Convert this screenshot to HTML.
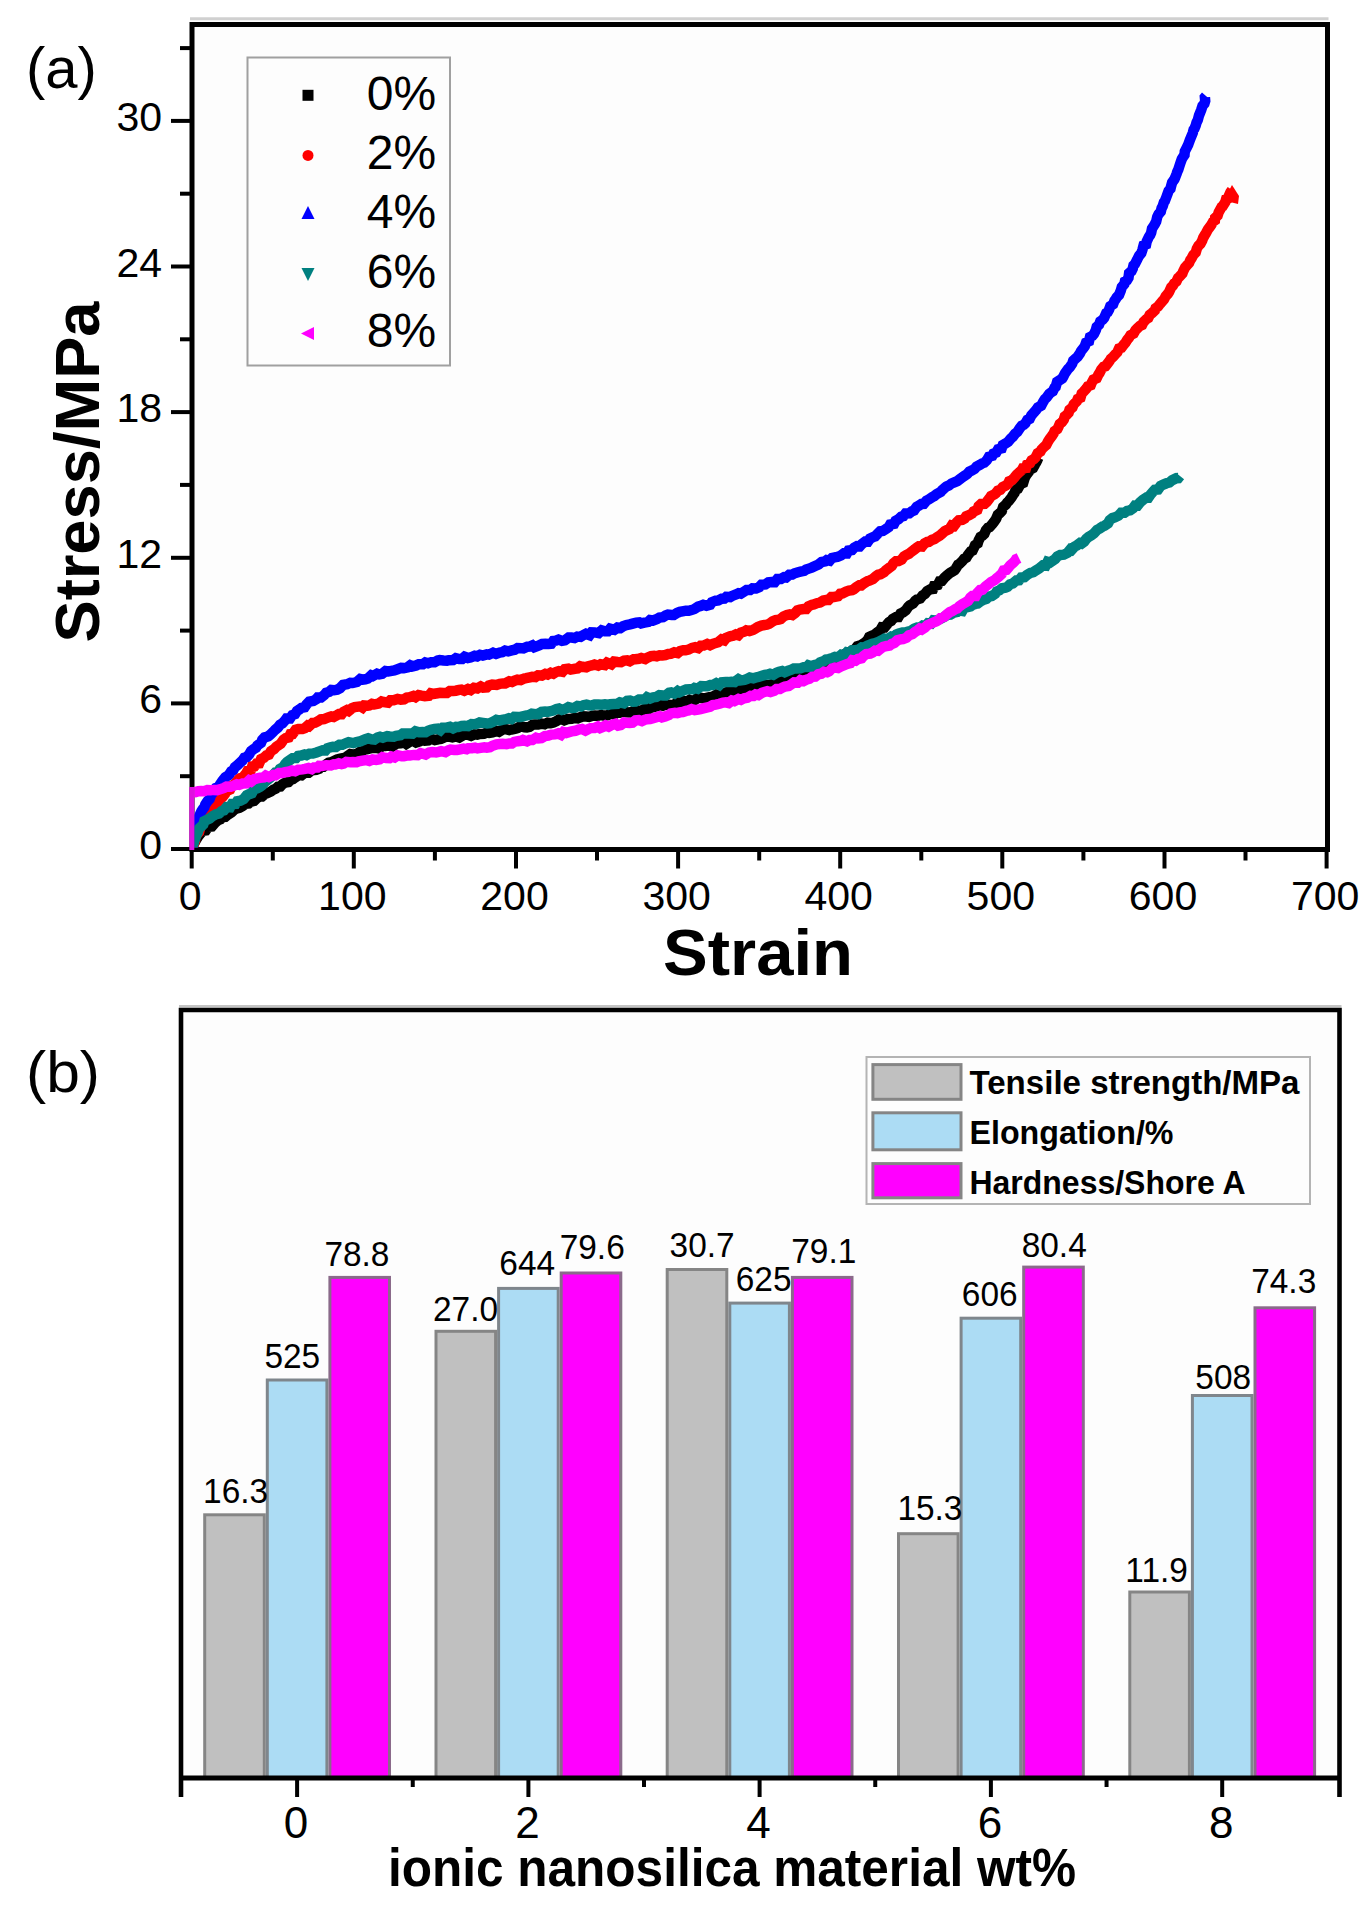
<!DOCTYPE html>
<html><head><meta charset="utf-8"><style>
html,body{margin:0;padding:0;background:#fff;width:1370px;height:1907px;overflow:hidden}
svg{display:block}
text{font-family:"Liberation Sans", sans-serif;fill:#000}
.th{stroke:#fff;stroke-width:0.7px}
</style></head><body>
<svg width="1370" height="1907" viewBox="0 0 1370 1907">
<rect x="192" y="24.5" width="1135.5" height="825.0" fill="#fdfdfd" stroke="#000" stroke-width="5"/>
<line x1="190" y1="18.8" x2="1328.5" y2="18.8" stroke="#d0d0d0" stroke-width="3"/>
<line x1="171" y1="849.0" x2="192" y2="849.0" stroke="#000" stroke-width="4"/>
<line x1="180" y1="776.2" x2="192" y2="776.2" stroke="#000" stroke-width="4"/>
<line x1="171" y1="703.4" x2="192" y2="703.4" stroke="#000" stroke-width="4"/>
<line x1="180" y1="630.6" x2="192" y2="630.6" stroke="#000" stroke-width="4"/>
<line x1="171" y1="557.8" x2="192" y2="557.8" stroke="#000" stroke-width="4"/>
<line x1="180" y1="484.9" x2="192" y2="484.9" stroke="#000" stroke-width="4"/>
<line x1="171" y1="412.1" x2="192" y2="412.1" stroke="#000" stroke-width="4"/>
<line x1="180" y1="339.3" x2="192" y2="339.3" stroke="#000" stroke-width="4"/>
<line x1="171" y1="266.5" x2="192" y2="266.5" stroke="#000" stroke-width="4"/>
<line x1="180" y1="193.7" x2="192" y2="193.7" stroke="#000" stroke-width="4"/>
<line x1="171" y1="120.9" x2="192" y2="120.9" stroke="#000" stroke-width="4"/>
<line x1="180" y1="48.1" x2="192" y2="48.1" stroke="#000" stroke-width="4"/>
<line x1="191.7" y1="849.5" x2="191.7" y2="868.5" stroke="#000" stroke-width="4"/>
<line x1="272.8" y1="849.5" x2="272.8" y2="860.5" stroke="#000" stroke-width="4"/>
<line x1="353.8" y1="849.5" x2="353.8" y2="868.5" stroke="#000" stroke-width="4"/>
<line x1="434.9" y1="849.5" x2="434.9" y2="860.5" stroke="#000" stroke-width="4"/>
<line x1="516.0" y1="849.5" x2="516.0" y2="868.5" stroke="#000" stroke-width="4"/>
<line x1="597.0" y1="849.5" x2="597.0" y2="860.5" stroke="#000" stroke-width="4"/>
<line x1="678.1" y1="849.5" x2="678.1" y2="868.5" stroke="#000" stroke-width="4"/>
<line x1="759.2" y1="849.5" x2="759.2" y2="860.5" stroke="#000" stroke-width="4"/>
<line x1="840.2" y1="849.5" x2="840.2" y2="868.5" stroke="#000" stroke-width="4"/>
<line x1="921.3" y1="849.5" x2="921.3" y2="860.5" stroke="#000" stroke-width="4"/>
<line x1="1002.3" y1="849.5" x2="1002.3" y2="868.5" stroke="#000" stroke-width="4"/>
<line x1="1083.4" y1="849.5" x2="1083.4" y2="860.5" stroke="#000" stroke-width="4"/>
<line x1="1164.5" y1="849.5" x2="1164.5" y2="868.5" stroke="#000" stroke-width="4"/>
<line x1="1245.5" y1="849.5" x2="1245.5" y2="860.5" stroke="#000" stroke-width="4"/>
<line x1="1326.6" y1="849.5" x2="1326.6" y2="868.5" stroke="#000" stroke-width="4"/>
<text x="162" y="859.0" text-anchor="end" font-size="41">0</text>
<text x="162" y="713.4" text-anchor="end" font-size="41">6</text>
<text x="162" y="567.8" text-anchor="end" font-size="41">12</text>
<text x="162" y="422.1" text-anchor="end" font-size="41">18</text>
<text x="162" y="276.5" text-anchor="end" font-size="41">24</text>
<text x="162" y="130.9" text-anchor="end" font-size="41">30</text>
<text x="190.2" y="910" text-anchor="middle" font-size="41">0</text>
<text x="352.3" y="910" text-anchor="middle" font-size="41">100</text>
<text x="514.5" y="910" text-anchor="middle" font-size="41">200</text>
<text x="676.6" y="910" text-anchor="middle" font-size="41">300</text>
<text x="838.7" y="910" text-anchor="middle" font-size="41">400</text>
<text x="1000.8" y="910" text-anchor="middle" font-size="41">500</text>
<text x="1163.0" y="910" text-anchor="middle" font-size="41">600</text>
<text x="1325.1" y="910" text-anchor="middle" font-size="41">700</text>
<text x="758" y="975" text-anchor="middle" font-size="65" font-weight="bold" textLength="190" lengthAdjust="spacingAndGlyphs">Strain</text>
<text transform="translate(99,472) rotate(-90)" text-anchor="middle" font-size="63.5" font-weight="bold" textLength="341" lengthAdjust="spacingAndGlyphs">Stress/MPa</text>
<text x="26" y="88" font-size="58">(a)</text>
<clipPath id="pa"><rect x="194.2" y="26.5" width="1131" height="821"/></clipPath><g clip-path="url(#pa)">
<path d="M192.0,849.0 L192.8,845.8 L194.7,842.3 L196.5,839.2 L198.4,836.0 L200.4,833.7 L202.8,830.8 L205.8,830.4 L208.2,826.8 L211.9,826.4 L215.1,822.8 L218.1,820.3 L220.5,819.2 L222.2,817.0 L225.3,816.8 L228.1,814.5 L231.6,812.2 L234.2,809.9 L236.1,808.7 L239.3,807.8 L242.2,806.2 L245.4,803.9 L248.6,803.5 L250.5,801.8 L254.0,800.9 L256.9,798.1 L260.0,796.3 L262.1,796.4 L264.6,794.2 L267.2,793.2 L270.9,791.5 L273.5,789.6 L276.0,788.6 L277.9,786.8 L280.4,786.5 L282.4,784.3 L285.4,782.5 L288.5,782.1 L291.2,779.3 L293.1,779.0 L295.4,777.3 L298.6,775.1 L301.5,775.4 L304.9,772.7 L308.7,772.8 L311.8,770.4 L316.1,769.9 L319.0,768.8 L320.7,766.7 L323.5,766.7 L327.0,763.8 L328.6,762.8 L331.5,762.2 L334.9,760.4 L336.9,759.6 L340.5,758.7 L344.4,757.8 L346.8,756.5 L350.3,754.0 L353.8,754.7 L357.1,753.7 L359.8,751.8 L362.0,751.6 L364.7,749.6 L367.6,749.2 L370.6,748.3 L373.0,747.9 L376.1,747.8 L378.9,748.4 L382.7,746.1 L385.2,746.1 L388.4,745.0 L392.2,746.5 L394.7,744.8 L397.2,743.4 L400.7,743.3 L404.4,742.5 L406.3,743.9 L410.1,741.5 L413.1,740.8 L416.1,742.6 L419.5,741.5 L421.7,740.2 L424.7,740.8 L428.3,740.4 L431.0,738.6 L434.8,740.1 L437.9,739.3 L440.9,738.8 L443.1,737.9 L446.3,736.4 L448.9,736.7 L452.3,737.3 L456.3,736.4 L459.3,737.4 L462.4,735.6 L464.4,734.9 L467.4,734.5 L471.1,735.8 L474.4,734.4 L477.2,734.7 L479.5,734.0 L483.8,733.8 L486.7,732.6 L489.1,732.9 L492.5,732.4 L496.6,731.0 L499.0,731.8 L502.7,729.5 L505.0,728.9 L509.3,730.0 L511.3,729.5 L515.6,728.6 L517.8,727.9 L520.5,726.1 L524.6,727.2 L526.9,727.4 L529.6,726.8 L532.8,724.7 L534.6,724.5 L538.2,724.6 L541.6,723.6 L544.6,724.2 L547.8,722.6 L551.0,723.1 L553.5,722.6 L556.4,721.2 L559.2,719.4 L561.9,719.3 L564.2,720.3 L567.6,719.0 L571.7,718.7 L574.7,718.0 L577.7,718.3 L579.8,717.4 L582.8,716.4 L586.4,716.6 L589.0,716.9 L592.5,715.8 L595.2,715.6 L598.1,715.7 L601.2,715.0 L604.4,715.6 L607.9,715.1 L611.4,713.3 L614.1,714.6 L617.7,712.3 L619.9,712.6 L623.0,711.7 L626.1,712.3 L630.3,712.4 L632.5,711.5 L636.2,709.7 L639.4,711.2 L641.4,710.7 L644.6,709.0 L648.4,709.4 L650.2,707.9 L653.6,707.1 L656.1,706.5 L659.9,705.2 L662.6,705.7 L664.8,704.8 L668.6,704.7 L670.8,705.2 L674.8,704.6 L676.7,702.4 L679.6,703.0 L682.9,700.9 L686.0,702.1 L689.5,700.0 L691.5,701.0 L695.2,699.9 L697.6,697.7 L701.5,698.0 L703.6,698.6 L707.5,697.7 L709.8,697.2 L712.8,696.6 L716.4,694.7 L719.6,695.5 L722.2,693.0 L725.6,692.6 L728.0,691.8 L731.0,691.3 L734.4,690.9 L738.1,690.2 L740.8,689.2 L743.6,688.2 L746.6,687.5 L750.3,688.1 L752.5,687.3 L756.6,685.8 L759.4,685.9 L762.0,686.3 L764.9,684.9 L768.4,685.4 L771.0,684.4 L774.6,683.4 L777.2,682.0 L779.8,680.9 L782.9,681.7 L786.2,679.6 L788.9,680.5 L793.0,679.4 L795.0,677.6 L797.9,677.4 L800.5,676.5 L803.4,676.9 L807.1,675.0 L808.6,675.1 L811.9,672.4 L814.5,671.2 L818.2,670.1 L820.8,668.6 L823.4,666.5 L826.4,665.3 L829.1,662.8 L832.2,661.7 L835.2,660.8 L838.0,659.5 L840.5,658.5 L842.5,655.5 L845.8,653.6 L847.8,653.2 L849.1,652.2 L852.6,650.3 L855.4,648.8 L857.3,646.3 L860.4,645.4 L863.2,643.7 L865.2,642.3 L867.6,640.1 L869.2,636.9 L871.4,635.9 L873.8,635.1 L877.1,632.6 L880.2,630.4 L882.0,627.2 L884.6,627.4 L886.3,625.2 L888.8,622.3 L891.2,620.9 L892.6,619.1 L895.9,617.1 L898.4,617.0 L900.5,613.6 L902.9,612.4 L905.8,610.2 L908.1,606.9 L909.8,605.3 L913.1,603.5 L915.3,600.8 L917.0,599.4 L920.2,598.5 L922.6,595.5 L924.8,594.0 L927.2,591.1 L930.3,589.3 L933.0,589.0 L934.1,585.8 L937.8,585.0 L939.7,581.3 L941.9,580.9 L944.3,577.9 L946.6,575.8 L950.1,572.8 L952.2,571.7 L954.5,570.2 L955.7,568.7 L958.1,564.7 L959.3,564.0 L962.4,561.0 L964.2,558.7 L966.4,557.6 L967.8,555.1 L970.8,551.4 L972.6,550.6 L974.1,547.4 L975.0,545.3 L977.7,543.4 L978.6,540.5 L980.5,536.8 L982.4,535.8 L984.3,534.0 L985.9,530.2 L988.0,527.7 L989.7,527.1 L992.2,524.3 L993.8,522.1 L996.2,518.6 L997.8,514.8 L999.8,513.2 L1001.8,511.0 L1003.1,507.0 L1005.9,504.6 L1007.2,502.5 L1008.8,501.0 L1011.6,497.4 L1012.9,495.1 L1014.5,493.0 L1015.5,490.2 L1017.8,488.9 L1020.4,484.2 L1023.2,483.0 L1024.8,477.8 L1026.5,474.7 L1028.8,471.7 L1030.7,469.3 L1033.0,468.1 L1035.0,464.4 L1036.2,462.4 L1037.5,459.9 L1038.3,457.9 L1040.0,457.0" fill="none" stroke="#000000" stroke-width="10.5" stroke-linejoin="miter" stroke-miterlimit="2" stroke-linecap="butt"/>
<path d="M192.0,849.0 L193.3,846.2 L193.5,844.9 L195.0,840.9 L195.3,837.6 L196.8,834.6 L199.1,832.1 L200.5,826.9 L200.6,826.1 L203.2,823.1 L204.1,819.5 L205.3,819.3 L207.5,816.6 L209.5,812.6 L210.1,809.7 L212.8,808.3 L215.6,805.5 L217.0,803.6 L218.6,800.9 L220.1,799.2 L222.5,797.2 L225.4,793.3 L226.9,790.8 L230.0,789.5 L231.6,785.6 L234.5,784.5 L236.6,781.4 L239.1,778.7 L240.8,777.8 L243.7,776.3 L246.1,773.5 L247.6,770.8 L250.9,769.9 L252.1,766.5 L254.5,766.3 L256.6,763.5 L259.2,763.3 L261.0,759.1 L263.8,757.8 L266.4,755.4 L268.9,754.6 L270.9,751.2 L274.0,749.2 L276.3,746.7 L278.0,745.6 L280.7,743.8 L283.5,739.7 L285.7,738.2 L288.7,737.5 L290.3,734.3 L292.6,734.1 L295.6,729.9 L298.4,729.1 L302.3,729.0 L304.8,728.1 L307.7,725.5 L309.2,726.1 L312.7,722.9 L315.2,722.7 L318.0,721.3 L320.8,719.4 L324.1,719.1 L328.2,717.4 L331.3,716.5 L333.6,716.9 L337.5,714.8 L338.9,714.0 L341.7,714.1 L343.5,711.8 L346.8,710.1 L348.6,711.0 L352.1,708.1 L354.7,707.1 L360.6,706.4 L362.5,707.5 L364.2,705.5 L367.6,705.8 L369.2,705.5 L372.0,703.9 L374.4,704.4 L378.6,703.6 L381.7,701.5 L383.8,702.0 L388.0,702.6 L390.3,700.3 L393.6,700.3 L397.6,699.0 L400.7,699.7 L403.9,699.3 L406.8,697.6 L409.6,697.2 L413.4,696.0 L415.6,697.1 L418.6,695.0 L421.4,695.6 L424.9,696.2 L428.8,695.8 L430.9,693.2 L433.8,693.8 L437.7,693.2 L440.1,692.8 L443.7,693.0 L446.9,693.0 L449.8,690.9 L453.1,690.9 L455.8,690.7 L459.1,689.9 L461.4,689.6 L464.3,690.8 L468.0,689.0 L470.8,690.1 L474.0,687.8 L477.4,688.4 L480.8,686.5 L483.2,687.7 L486.8,687.4 L488.9,685.4 L492.2,684.5 L496.6,684.9 L499.8,683.8 L502.9,683.4 L505.2,683.5 L509.3,681.3 L512.0,681.9 L514.5,680.7 L517.5,679.7 L520.7,680.1 L524.2,678.5 L526.1,678.2 L529.9,677.3 L532.1,676.8 L535.4,677.1 L538.0,675.3 L541.8,675.6 L545.3,673.8 L547.6,674.5 L550.7,672.8 L553.4,673.7 L556.1,672.1 L558.9,671.1 L562.5,671.8 L564.7,669.2 L568.4,668.6 L570.7,669.6 L574.9,668.8 L577.5,668.5 L580.3,666.3 L582.4,666.8 L586.2,667.3 L588.4,666.2 L591.8,665.5 L594.5,664.6 L598.1,665.7 L600.7,664.3 L604.8,665.0 L607.1,662.6 L611.4,664.3 L614.0,661.6 L617.8,662.0 L621.0,662.2 L624.1,660.6 L627.2,660.3 L629.8,661.3 L633.5,659.2 L635.5,659.3 L638.9,658.8 L641.3,658.0 L645.1,659.1 L647.0,657.8 L651.0,656.1 L654.1,655.8 L656.7,656.3 L659.7,655.2 L662.4,655.4 L665.4,655.0 L668.3,654.0 L670.7,653.8 L674.3,652.3 L677.7,653.1 L680.2,651.0 L683.2,650.2 L685.6,650.3 L688.5,649.6 L692.0,647.9 L695.1,647.2 L698.2,648.1 L700.8,645.6 L703.7,645.5 L707.2,644.0 L710.0,645.2 L712.7,643.9 L714.8,643.3 L718.1,642.3 L721.6,639.4 L724.3,640.3 L726.2,637.9 L730.0,636.4 L733.1,635.7 L735.9,634.4 L738.4,635.2 L740.8,632.6 L744.2,631.7 L746.4,630.3 L749.5,631.0 L753.0,629.9 L755.1,628.7 L757.8,627.0 L761.4,625.6 L764.5,625.0 L766.9,624.7 L769.1,623.9 L772.6,621.4 L775.7,620.0 L778.8,619.6 L780.7,619.0 L783.6,616.4 L786.9,615.0 L789.8,614.4 L792.4,615.0 L795.1,613.1 L797.5,610.4 L799.9,609.6 L803.6,609.1 L806.2,609.1 L808.5,606.3 L812.0,604.7 L813.9,604.4 L816.9,603.2 L819.9,602.6 L823.3,600.6 L826.2,600.1 L828.4,600.0 L831.4,597.0 L834.1,597.0 L838.1,596.2 L840.2,593.8 L842.5,593.5 L846.1,591.6 L849.0,590.6 L852.1,590.1 L853.8,589.3 L856.2,587.2 L859.3,585.2 L861.4,585.3 L863.8,583.4 L867.6,581.1 L869.5,580.6 L872.9,579.0 L876.1,576.1 L878.1,574.7 L880.5,574.3 L884.2,572.1 L885.7,570.5 L889.3,567.8 L891.8,565.9 L893.5,563.2 L896.0,561.2 L898.6,561.1 L901.6,559.6 L904.0,556.4 L906.2,555.1 L909.0,553.7 L910.7,552.3 L914.4,549.6 L917.0,547.4 L918.7,546.3 L922.0,546.5 L924.5,543.5 L927.3,542.0 L928.9,541.9 L931.9,539.9 L934.5,539.1 L936.8,537.3 L939.7,535.7 L941.9,533.8 L944.7,531.1 L946.9,530.1 L949.4,529.0 L951.8,525.3 L954.1,525.8 L956.8,522.3 L958.8,520.3 L962.1,520.0 L964.6,518.5 L966.1,516.4 L969.0,515.2 L972.1,513.5 L973.5,511.6 L977.3,509.9 L978.6,506.2 L981.1,503.9 L984.6,503.8 L986.8,501.8 L989.3,498.6 L991.0,496.1 L994.4,494.3 L996.0,493.0 L997.8,490.7 L1000.4,489.8 L1002.8,486.9 L1005.9,485.4 L1008.1,483.7 L1009.2,481.2 L1012.1,480.0 L1014.2,477.8 L1016.8,474.5 L1019.5,472.1 L1021.7,470.2 L1022.8,468.2 L1026.1,467.9 L1027.1,464.6 L1030.0,463.2 L1031.6,460.4 L1033.9,459.1 L1035.7,457.2 L1037.7,453.3 L1040.4,451.6 L1041.5,449.5 L1043.5,447.4 L1046.3,444.9 L1048.1,441.4 L1049.6,439.0 L1052.1,435.7 L1053.8,433.0 L1054.6,431.1 L1057.3,429.1 L1058.2,427.5 L1059.7,424.0 L1061.8,422.3 L1063.8,419.6 L1064.8,416.4 L1066.2,415.3 L1068.6,412.8 L1069.5,409.9 L1072.5,407.4 L1073.7,404.4 L1076.8,401.3 L1077.8,398.9 L1080.5,397.7 L1081.7,393.5 L1083.8,391.5 L1086.2,388.7 L1087.8,386.4 L1090.7,385.3 L1091.4,383.4 L1093.4,379.6 L1096.7,378.2 L1098.3,374.8 L1099.5,373.0 L1101.2,369.6 L1103.5,366.9 L1105.5,366.3 L1107.8,363.3 L1109.6,360.9 L1110.8,358.9 L1113.1,356.8 L1115.8,353.8 L1117.3,352.2 L1119.0,348.6 L1121.4,347.8 L1123.4,345.1 L1125.5,342.7 L1127.2,339.9 L1128.8,338.0 L1130.5,335.2 L1133.6,333.6 L1135.5,330.2 L1137.4,328.3 L1139.9,325.9 L1142.1,324.9 L1143.6,321.9 L1146.6,319.0 L1148.2,318.1 L1149.7,314.9 L1151.9,313.2 L1154.9,310.4 L1155.6,308.3 L1158.1,306.5 L1160.2,303.7 L1162.7,300.8 L1164.1,299.3 L1165.7,296.2 L1167.8,293.9 L1169.1,292.0 L1171.2,287.4 L1172.8,285.8 L1174.2,283.4 L1176.4,281.5 L1178.1,278.0 L1179.6,276.6 L1182.4,273.5 L1183.1,271.5 L1185.1,267.4 L1186.4,266.0 L1189.1,263.0 L1190.3,260.1 L1191.6,258.3 L1193.4,254.9 L1195.7,252.6 L1196.8,248.7 L1198.5,245.7 L1200.5,243.7 L1202.2,240.6 L1203.2,237.8 L1204.9,234.8 L1205.9,233.3 L1208.0,229.3 L1209.6,227.2 L1211.3,224.9 L1213.1,221.6 L1214.9,220.4 L1215.1,218.0 L1217.6,215.7 L1218.7,212.2 L1221.6,206.9 L1222.6,206.3 L1225.3,202.0 L1226.1,199.3 L1227.6,198.7 L1230.5,192.1 L1232.0,190.0" fill="none" stroke="#ff0000" stroke-width="10.5" stroke-linejoin="miter" stroke-miterlimit="2" stroke-linecap="butt"/>
<polygon points="1226,196 1232,185 1239,196 1238,204 1230,202" fill="#ff0000"/>
<path d="M192.0,849.0 L193.0,847.8 L192.4,845.4 L193.6,842.1 L194.4,838.9 L195.2,835.3 L195.1,831.5 L196.3,828.4 L196.9,825.9 L198.1,820.8 L198.7,817.3 L200.1,814.2 L201.4,811.4 L203.0,809.0 L204.4,807.3 L205.3,804.5 L207.6,801.0 L209.7,798.8 L211.1,795.0 L213.8,791.5 L215.2,790.3 L216.2,787.7 L218.9,786.3 L220.1,784.3 L222.4,780.9 L225.4,777.2 L228.3,775.3 L229.4,774.2 L231.2,771.4 L233.4,770.1 L234.9,767.2 L237.4,765.3 L240.2,762.5 L242.5,760.4 L244.3,757.8 L246.7,757.1 L249.2,754.4 L251.1,751.0 L253.3,749.4 L256.0,747.7 L257.3,745.5 L261.0,742.8 L262.2,740.0 L264.6,737.4 L268.3,736.2 L270.4,734.5 L273.2,731.9 L275.1,729.8 L277.7,727.7 L280.0,724.7 L282.4,723.3 L285.0,720.5 L286.5,718.4 L290.0,718.4 L292.3,715.1 L295.0,714.2 L297.0,711.0 L299.1,709.6 L301.5,707.8 L304.6,707.2 L306.4,704.5 L309.2,701.7 L313.2,701.0 L316.6,698.9 L317.8,697.4 L321.1,697.4 L324.3,695.0 L326.1,692.8 L329.2,691.8 L331.3,690.0 L334.0,690.3 L337.1,689.7 L340.0,688.2 L343.1,684.9 L347.1,684.2 L350.3,682.8 L352.6,683.0 L356.9,682.0 L360.3,679.0 L362.8,679.6 L365.2,679.3 L367.7,678.5 L371.2,675.3 L373.0,676.0 L377.1,673.7 L379.3,674.4 L382.1,673.9 L385.6,671.1 L388.4,671.5 L391.6,670.9 L394.2,670.4 L397.6,669.2 L401.1,667.9 L403.8,668.1 L407.7,667.3 L410.2,665.4 L412.4,666.4 L416.3,665.4 L418.8,664.3 L422.8,664.2 L425.3,662.4 L428.1,663.2 L431.1,662.3 L434.5,662.3 L437.8,660.4 L439.7,660.0 L443.4,660.4 L447.0,660.7 L448.9,660.2 L453.1,660.0 L455.8,658.2 L459.2,659.1 L462.0,659.0 L464.6,656.7 L467.9,658.0 L470.5,657.5 L474.6,655.8 L477.2,656.4 L480.0,654.8 L482.8,655.6 L486.8,654.4 L488.9,654.7 L493.1,652.8 L496.0,653.9 L499.7,652.5 L502.3,652.1 L505.1,650.6 L508.2,651.3 L511.7,650.4 L514.8,649.7 L517.5,648.1 L521.7,648.3 L523.4,648.4 L527.3,646.7 L529.8,646.6 L532.4,645.4 L534.3,647.2 L539.1,645.3 L542.1,644.0 L545.5,643.7 L548.7,643.9 L551.3,643.7 L553.3,640.9 L555.9,640.6 L558.5,639.6 L562.0,640.9 L564.8,640.4 L568.6,637.5 L571.5,637.6 L574.5,638.1 L577.3,636.6 L580.5,636.9 L583.4,635.0 L585.9,633.8 L589.6,635.2 L591.6,632.3 L594.7,632.4 L598.7,633.1 L601.7,630.4 L604.8,631.3 L607.8,631.3 L610.1,628.6 L614.4,629.8 L617.5,627.6 L620.5,628.0 L623.0,626.3 L626.4,625.1 L629.9,624.4 L632.6,623.6 L636.2,622.6 L639.2,622.4 L641.1,623.4 L644.3,622.7 L648.2,621.9 L650.1,620.1 L653.0,620.5 L657.1,619.0 L659.5,617.5 L663.0,617.1 L665.6,615.5 L668.0,614.5 L671.7,614.9 L673.8,614.9 L677.0,613.0 L679.8,611.8 L683.7,611.1 L685.7,610.7 L688.8,610.8 L691.4,610.1 L694.3,609.1 L698.1,606.6 L700.7,605.9 L703.3,604.8 L706.4,605.7 L710.2,604.7 L711.8,602.2 L715.8,600.7 L718.4,600.4 L721.7,598.7 L724.3,598.6 L726.3,596.8 L730.1,597.1 L732.1,595.9 L736.0,594.4 L738.5,593.2 L740.8,593.7 L744.5,591.3 L746.5,590.0 L750.2,590.0 L752.6,588.3 L756.1,588.4 L759.4,587.0 L761.6,584.7 L765.4,584.4 L768.4,582.4 L771.7,582.0 L774.8,582.1 L777.4,578.9 L781.0,578.9 L784.0,577.2 L786.1,577.5 L789.3,574.7 L792.3,574.6 L794.6,573.3 L798.1,572.2 L800.5,571.6 L804.2,570.9 L806.2,569.5 L808.8,568.6 L811.7,567.6 L816.2,565.5 L818.6,564.4 L821.6,562.0 L825.2,561.4 L826.8,560.1 L829.7,560.7 L832.1,557.9 L835.8,557.1 L837.5,556.9 L841.0,555.5 L843.9,553.3 L846.9,553.4 L848.5,550.6 L852.0,550.0 L854.2,547.7 L857.0,546.2 L859.8,546.4 L861.8,544.1 L865.2,541.5 L867.9,541.6 L869.9,538.7 L873.1,537.1 L875.1,536.4 L878.2,533.1 L880.1,531.3 L882.9,531.0 L886.1,529.0 L888.7,527.1 L890.2,524.5 L894.1,523.8 L895.6,520.8 L898.8,519.0 L901.2,516.6 L903.5,516.0 L905.5,513.5 L909.3,513.4 L911.8,511.4 L914.1,510.4 L916.7,506.8 L918.8,505.7 L921.4,504.0 L923.8,503.9 L926.5,500.6 L929.0,499.3 L932.3,497.1 L934.1,496.2 L936.6,494.2 L940.7,492.0 L941.9,490.4 L944.6,488.1 L946.4,486.5 L949.0,485.5 L951.5,483.5 L953.7,482.6 L957.3,481.1 L959.4,479.5 L961.4,478.0 L964.4,475.9 L967.2,474.0 L969.3,471.7 L971.7,470.6 L974.5,469.0 L976.5,466.6 L980.2,464.6 L982.3,463.3 L984.3,462.7 L986.8,460.3 L988.9,456.7 L992.3,455.8 L993.4,453.7 L996.2,452.5 L998.1,449.2 L1001.7,448.3 L1002.8,445.1 L1005.4,443.6 L1008.1,441.8 L1010.7,438.6 L1012.8,436.8 L1015.1,433.8 L1017.3,432.0 L1019.7,428.3 L1021.7,425.7 L1023.7,424.8 L1025.3,423.4 L1027.4,419.9 L1029.7,418.8 L1031.3,415.5 L1032.9,413.6 L1035.0,411.2 L1036.2,409.9 L1037.8,407.6 L1041.2,405.7 L1043.2,401.9 L1044.9,399.0 L1046.8,397.3 L1049.2,393.9 L1051.3,392.2 L1052.8,391.3 L1054.7,387.4 L1055.7,386.7 L1057.1,381.9 L1060.1,380.0 L1062.2,378.5 L1063.2,376.9 L1064.9,373.5 L1066.8,370.8 L1068.1,368.9 L1069.9,367.2 L1072.2,363.7 L1073.2,360.8 L1075.5,358.7 L1077.6,356.8 L1080.0,353.3 L1081.1,351.0 L1083.7,347.7 L1084.8,346.3 L1086.1,342.5 L1089.0,341.2 L1090.0,337.1 L1092.4,335.8 L1094.0,333.9 L1095.9,329.9 L1096.7,326.9 L1099.0,324.8 L1100.3,321.4 L1102.7,319.7 L1104.1,318.0 L1106.2,313.1 L1107.6,312.3 L1109.1,309.5 L1110.3,306.1 L1113.1,304.3 L1114.4,300.9 L1115.6,299.4 L1116.7,297.4 L1119.0,295.0 L1120.8,290.6 L1121.8,287.0 L1124.3,284.1 L1124.9,281.5 L1126.9,280.4 L1128.5,277.7 L1129.1,273.1 L1131.5,271.1 L1132.8,268.5 L1133.5,265.4 L1134.9,264.1 L1137.0,260.0 L1138.3,257.3 L1139.1,255.8 L1141.3,253.2 L1142.5,249.6 L1143.6,245.3 L1146.1,244.3 L1146.7,241.4 L1148.9,236.8 L1150.1,235.1 L1151.2,232.6 L1152.0,228.6 L1154.0,225.5 L1154.7,224.4 L1156.2,221.4 L1157.2,217.0 L1158.6,214.2 L1160.8,211.5 L1161.6,208.2 L1162.8,205.9 L1163.9,202.3 L1164.8,201.2 L1166.4,197.0 L1167.4,194.2 L1168.6,190.9 L1170.5,188.7 L1171.0,186.6 L1172.1,182.6 L1174.4,179.3 L1175.0,178.0 L1176.7,173.5 L1177.2,171.9 L1178.3,169.6 L1179.2,166.7 L1180.7,162.1 L1181.8,159.1 L1183.2,156.7 L1184.5,154.8 L1184.8,151.4 L1186.5,148.1 L1188.2,144.7 L1188.9,142.6 L1189.8,140.1 L1191.2,136.8 L1192.7,133.1 L1193.6,129.7 L1194.4,128.8 L1195.7,125.6 L1196.5,122.7 L1197.8,120.0 L1199.0,115.4 L1200.3,112.2 L1201.2,109.9 L1202.5,105.8 L1204.4,103.6 L1205.2,101.0 L1204.9,97.3 L1206.0,96.0" fill="none" stroke="#0000ff" stroke-width="10.5" stroke-linejoin="miter" stroke-miterlimit="2" stroke-linecap="butt"/>
<path d="M192.0,849.0 L192.0,847.1 L193.8,842.9 L194.6,839.9 L196.3,835.4 L197.7,832.6 L198.6,829.3 L199.6,828.1 L203.3,824.5 L204.3,821.2 L206.8,819.9 L209.6,818.5 L212.0,816.5 L215.8,814.4 L219.0,813.6 L221.6,811.1 L223.9,810.4 L226.6,807.1 L230.1,807.3 L232.0,804.0 L235.6,803.9 L237.2,801.3 L240.3,800.8 L243.6,799.0 L246.7,795.3 L249.1,794.2 L251.8,793.3 L253.8,789.5 L257.5,788.3 L260.1,786.8 L262.6,785.0 L265.1,782.0 L266.9,780.5 L269.9,778.0 L273.3,774.9 L275.6,772.4 L278.0,771.9 L279.9,769.0 L283.3,767.0 L285.2,763.9 L287.0,762.1 L290.2,759.9 L292.7,758.1 L296.1,758.0 L298.1,755.9 L301.2,755.5 L304.6,754.4 L306.6,755.0 L309.4,753.6 L312.8,753.5 L316.5,752.5 L319.5,751.4 L322.7,750.2 L325.6,750.4 L327.4,748.3 L330.5,747.3 L332.9,746.7 L336.1,746.9 L339.4,744.7 L342.4,744.8 L345.7,743.3 L348.6,742.1 L353.4,743.1 L355.7,742.3 L360.7,741.2 L362.1,740.5 L365.3,739.3 L368.3,738.3 L371.8,739.4 L374.4,739.6 L377.5,737.5 L380.0,736.7 L382.9,737.7 L387.2,736.1 L389.5,736.5 L393.8,736.7 L396.0,735.9 L400.3,735.3 L402.8,733.5 L406.8,733.4 L409.4,733.5 L412.5,733.7 L415.5,731.3 L419.1,732.3 L422.5,732.1 L425.7,732.2 L428.2,730.7 L430.8,729.8 L434.5,728.9 L437.7,728.7 L440.4,730.2 L442.9,727.6 L446.5,727.5 L449.9,726.7 L453.1,728.3 L456.1,726.9 L458.4,727.0 L461.8,726.0 L464.6,725.7 L468.1,726.1 L471.5,724.1 L473.7,724.3 L477.1,723.6 L479.6,722.5 L482.9,722.9 L487.0,723.5 L490.1,723.1 L493.4,721.7 L496.4,719.8 L499.4,720.6 L502.1,719.9 L506.2,719.2 L508.9,718.2 L511.6,719.0 L514.3,716.8 L518.3,716.9 L520.4,716.9 L523.8,716.1 L526.7,715.5 L529.7,714.7 L531.8,713.7 L535.6,714.1 L538.1,714.2 L541.6,711.8 L545.1,711.6 L548.0,711.7 L550.5,711.2 L553.1,710.5 L556.5,709.0 L559.0,708.5 L561.9,709.9 L565.0,709.0 L568.4,707.1 L572.1,708.0 L574.4,707.8 L577.5,705.9 L581.0,706.5 L583.5,705.2 L586.4,704.7 L588.6,705.2 L591.3,705.5 L594.6,704.5 L598.4,704.5 L601.8,704.7 L604.9,704.3 L608.2,704.8 L610.3,704.2 L613.8,703.9 L617.5,703.8 L619.9,702.3 L623.9,703.3 L627.1,700.8 L630.0,700.5 L633.1,701.7 L635.4,701.6 L639.1,699.4 L641.4,699.4 L645.2,699.2 L647.1,697.2 L650.1,698.5 L653.2,697.3 L656.3,697.0 L659.4,695.1 L663.0,695.4 L665.7,695.4 L669.1,692.8 L671.2,692.5 L674.3,693.6 L677.7,691.0 L679.8,692.2 L683.5,690.5 L686.1,689.4 L689.6,689.3 L692.5,689.3 L694.5,688.0 L697.7,688.8 L701.3,686.1 L703.8,686.3 L707.3,686.2 L710.2,685.1 L712.7,685.1 L716.2,683.2 L719.4,685.0 L721.9,682.4 L725.8,682.1 L728.3,682.1 L731.3,681.7 L734.7,682.0 L738.5,679.2 L740.9,680.4 L744.4,679.9 L747.1,678.9 L749.8,677.5 L753.4,678.3 L756.5,677.3 L758.5,677.0 L762.1,675.8 L764.9,674.9 L767.7,674.5 L770.0,673.8 L773.3,674.8 L776.5,672.8 L779.1,671.9 L782.2,671.1 L784.7,672.3 L788.3,670.7 L791.4,669.7 L793.8,668.5 L797.0,668.5 L800.5,668.4 L803.8,667.1 L806.7,667.0 L808.4,665.2 L812.0,666.4 L814.6,665.0 L817.7,664.3 L820.0,662.5 L824.1,661.0 L826.1,659.5 L828.9,659.1 L832.6,657.9 L835.0,656.9 L838.2,657.4 L841.2,654.8 L844.2,655.6 L846.9,652.4 L850.1,653.2 L852.3,650.4 L855.0,650.3 L858.9,649.5 L861.8,647.4 L863.9,647.6 L867.2,645.8 L870.2,644.6 L872.2,643.7 L875.1,643.2 L878.5,641.9 L881.8,640.2 L884.6,638.6 L888.2,638.9 L891.3,636.6 L893.7,637.2 L896.3,634.6 L898.9,633.6 L902.8,632.5 L905.7,632.2 L908.2,631.5 L911.1,630.7 L914.1,628.8 L917.1,627.6 L919.8,627.7 L922.7,625.6 L925.4,626.1 L927.9,623.3 L931.0,623.7 L933.4,620.3 L936.8,620.7 L940.1,618.9 L943.3,617.4 L945.8,615.9 L947.6,614.9 L950.4,614.6 L953.9,612.7 L957.2,612.0 L958.8,610.4 L962.3,611.0 L964.2,607.7 L967.7,607.0 L970.6,606.4 L972.7,604.8 L975.4,603.9 L977.7,603.5 L980.3,601.6 L983.1,599.9 L986.4,598.9 L988.6,596.7 L991.8,596.0 L995.2,593.8 L996.8,591.4 L999.5,590.3 L1002.1,588.2 L1005.5,587.7 L1007.5,586.9 L1010.0,584.3 L1012.7,583.5 L1016.5,580.4 L1019.1,580.2 L1021.2,577.5 L1024.4,577.2 L1026.9,575.0 L1030.5,572.8 L1033.4,572.1 L1035.9,570.4 L1039.1,568.5 L1042.8,565.4 L1045.7,565.7 L1047.6,561.8 L1050.1,562.5 L1052.5,560.9 L1055.1,559.1 L1057.3,556.4 L1060.3,555.0 L1063.8,554.7 L1067.5,552.9 L1070.4,549.4 L1071.6,549.9 L1074.5,546.7 L1076.8,545.5 L1079.9,543.1 L1081.5,543.6 L1084.2,541.7 L1086.3,538.9 L1088.7,536.8 L1091.3,535.4 L1093.9,533.4 L1097.0,529.9 L1099.4,528.7 L1102.9,526.3 L1104.5,525.8 L1108.0,523.3 L1109.7,520.2 L1112.4,518.1 L1114.9,517.4 L1118.3,515.8 L1121.1,512.8 L1124.5,512.7 L1127.1,510.9 L1130.1,510.3 L1133.1,508.2 L1135.0,505.6 L1137.5,505.7 L1139.8,502.7 L1142.8,500.0 L1146.4,497.6 L1148.4,497.7 L1150.3,494.8 L1152.8,491.9 L1154.8,489.7 L1158.1,489.4 L1160.6,485.9 L1163.3,484.6 L1166.5,483.3 L1169.4,482.5 L1172.1,480.3 L1176.3,478.2 L1178.3,478.1 L1180.0,476.0" fill="none" stroke="#008080" stroke-width="10.5" stroke-linejoin="miter" stroke-miterlimit="2" stroke-linecap="butt"/>
<path d="M194.0,792.0 L195.4,792.1 L198.4,791.2 L201.1,791.0 L203.9,791.2 L207.4,790.1 L210.7,790.2 L213.7,789.9 L217.2,790.1 L220.8,789.1 L224.0,787.9 L226.6,786.5 L230.8,786.7 L233.4,785.9 L237.0,784.3 L239.2,784.8 L242.7,783.5 L246.3,783.3 L249.2,780.4 L251.3,781.5 L254.5,779.1 L257.1,778.4 L260.0,777.8 L263.6,777.4 L265.8,775.6 L268.9,777.0 L273.3,774.9 L275.6,775.2 L278.9,773.1 L282.0,773.1 L285.1,772.2 L288.3,771.8 L291.8,770.5 L295.1,771.2 L298.3,769.7 L302.5,769.4 L305.0,768.9 L308.5,768.0 L311.8,769.2 L314.0,767.6 L317.3,767.6 L319.1,765.8 L322.1,766.0 L326.3,765.2 L330.9,765.4 L333.7,764.3 L335.5,764.5 L338.8,763.3 L341.6,764.1 L343.6,763.6 L346.4,761.8 L350.1,762.2 L352.9,762.0 L356.7,762.2 L358.7,761.4 L362.7,760.7 L366.5,760.1 L369.4,760.9 L372.7,759.5 L376.1,759.9 L379.7,759.2 L382.5,757.2 L386.1,758.0 L389.4,758.1 L391.5,756.5 L394.6,757.5 L397.7,755.4 L401.7,756.2 L403.8,756.2 L407.9,755.3 L410.1,755.5 L413.7,754.9 L417.7,755.1 L420.6,753.2 L422.9,753.8 L425.6,754.6 L429.1,752.5 L432.3,752.1 L436.1,752.5 L438.7,751.9 L441.2,751.2 L445.4,752.1 L448.5,750.4 L450.6,749.6 L454.1,750.0 L457.0,750.0 L460.2,749.3 L463.5,748.6 L466.6,749.2 L468.3,748.3 L472.0,748.2 L475.0,747.6 L477.5,748.4 L480.6,747.9 L484.3,747.3 L486.8,747.7 L489.9,747.2 L492.4,745.7 L496.4,744.4 L500.0,744.0 L502.8,743.7 L506.6,744.1 L509.2,743.5 L511.9,743.5 L514.2,741.9 L518.0,741.2 L521.1,740.8 L522.9,740.0 L527.0,741.4 L529.5,740.1 L532.4,740.1 L536.1,737.7 L538.3,738.4 L541.4,738.1 L544.9,736.1 L548.4,735.6 L551.5,734.6 L555.0,734.4 L558.0,733.4 L561.0,734.8 L563.4,732.0 L566.3,732.9 L569.0,732.1 L571.6,731.4 L575.3,730.8 L578.6,729.5 L582.0,729.0 L585.4,730.6 L588.5,729.0 L590.7,728.1 L594.5,728.0 L597.8,726.5 L600.1,728.0 L603.3,726.7 L605.5,725.4 L608.7,726.7 L612.5,724.7 L615.6,723.8 L618.1,725.6 L620.7,725.1 L624.1,722.5 L626.7,722.9 L629.6,723.1 L632.5,722.7 L635.6,720.4 L638.9,720.0 L641.9,721.1 L644.9,719.7 L647.0,719.3 L650.1,719.0 L653.1,718.2 L656.4,717.2 L659.8,716.1 L662.0,717.3 L665.2,716.5 L669.0,715.0 L670.9,713.4 L674.9,712.8 L677.3,713.2 L679.7,712.4 L682.7,712.0 L686.1,710.9 L688.6,710.4 L691.6,709.1 L694.7,710.2 L698.1,709.6 L700.5,709.1 L704.2,708.1 L707.4,707.3 L710.0,706.8 L712.9,705.0 L715.8,704.6 L719.5,703.8 L723.1,702.6 L725.7,702.3 L728.7,703.0 L731.9,700.5 L734.3,701.1 L738.4,699.0 L741.0,699.9 L744.3,698.2 L747.4,697.7 L750.6,695.8 L753.6,696.0 L755.7,694.4 L758.4,695.1 L762.0,692.8 L764.5,691.9 L767.2,691.2 L770.4,692.1 L774.3,690.7 L776.5,689.1 L779.9,689.1 L782.8,687.5 L785.0,686.5 L788.9,685.9 L790.8,684.7 L794.1,682.4 L797.9,682.6 L800.5,680.2 L803.6,681.1 L806.7,679.6 L809.5,678.7 L812.1,676.8 L815.3,676.6 L818.3,674.3 L821.3,673.8 L824.2,671.7 L827.1,672.2 L829.0,671.3 L831.9,668.6 L835.1,667.6 L838.1,668.0 L841.2,666.4 L843.7,665.4 L847.2,664.0 L850.3,663.2 L852.4,660.2 L855.6,660.8 L858.1,659.0 L861.7,658.2 L863.4,656.2 L866.3,654.1 L870.2,653.6 L872.7,652.4 L875.1,650.6 L878.0,650.9 L881.2,648.3 L883.2,646.9 L886.9,646.0 L889.7,645.6 L891.7,644.0 L894.4,643.0 L897.4,640.3 L901.4,639.2 L903.1,639.1 L906.4,637.8 L908.9,635.4 L912.4,634.1 L915.2,631.9 L917.6,630.4 L919.8,628.6 L921.9,629.5 L924.9,627.7 L927.5,625.1 L930.1,624.0 L933.9,622.3 L936.0,621.6 L939.4,619.4 L941.0,617.7 L944.2,616.8 L946.7,614.5 L949.8,612.1 L952.2,611.1 L955.4,609.0 L957.2,608.5 L959.3,606.4 L962.7,604.0 L964.9,602.7 L968.1,600.9 L970.4,597.5 L972.3,595.9 L975.7,595.9 L977.0,593.3 L980.2,590.0 L982.6,589.6 L985.6,586.4 L988.5,584.2 L990.9,582.2 L994.2,580.5 L996.6,578.3 L998.7,576.7 L1001.7,573.9 L1003.6,570.4 L1006.4,569.9 L1009.0,566.8 L1010.2,565.3 L1013.3,562.6 L1014.9,561.0 L1016.0,559.3 L1017.4,558.8 L1019.0,558.0" fill="none" stroke="#ff00ff" stroke-width="10.5" stroke-linejoin="miter" stroke-miterlimit="2" stroke-linecap="butt"/>
</g>
<line x1="191.8" y1="850" x2="191.8" y2="787" stroke="#e010e0" stroke-width="5"/>
<rect x="247.5" y="57.5" width="202.5" height="308" fill="#fdfdfd" stroke="#a0a0a0" stroke-width="2"/>
<text x="401.5" y="109.5" text-anchor="middle" font-size="48">0%</text>
<text x="401.5" y="168.9" text-anchor="middle" font-size="48">2%</text>
<text x="401.5" y="228.3" text-anchor="middle" font-size="48">4%</text>
<text x="401.5" y="287.7" text-anchor="middle" font-size="48">6%</text>
<text x="401.5" y="347.1" text-anchor="middle" font-size="48">8%</text>
<rect x="302.5" y="89.8" width="11" height="11" fill="#000"/>
<circle cx="308" cy="155.4" r="5.5" fill="#ff0000"/>
<polygon points="301.5,219 314.5,219 308,206" fill="#0000ff"/>
<polygon points="301.5,268 314.5,268 308,281" fill="#008080"/>
<polygon points="314,327 314,340 301,333.5" fill="#ff00ff"/>
<line x1="179" y1="1006.3" x2="1341.5" y2="1006.3" stroke="#c4c4c4" stroke-width="2.5"/>
<rect x="181" y="1010" width="1158.5" height="768" fill="#fdfdfd" stroke="none"/>
<polyline points="181,1797 181,1010 1339.5,1010 1339.5,1797" fill="none" stroke="#000" stroke-width="4.6"/>
<rect x="204.7" y="1514.8" width="59.6" height="263.2" fill="#c0c0c0" stroke="#858585" stroke-width="3"/>
<rect x="267.3" y="1380.0" width="59.6" height="398.0" fill="#acdcf4" stroke="#7f868c" stroke-width="3"/>
<rect x="329.9" y="1277.4" width="59.6" height="500.6" fill="#ff00ff" stroke="#8a6a8a" stroke-width="3"/>
<rect x="436.0" y="1331.3" width="59.6" height="446.7" fill="#c0c0c0" stroke="#858585" stroke-width="3"/>
<rect x="498.6" y="1288.4" width="59.6" height="489.6" fill="#acdcf4" stroke="#7f868c" stroke-width="3"/>
<rect x="561.2" y="1273.0" width="59.6" height="505.0" fill="#ff00ff" stroke="#8a6a8a" stroke-width="3"/>
<rect x="667.2" y="1269.5" width="59.6" height="508.5" fill="#c0c0c0" stroke="#858585" stroke-width="3"/>
<rect x="729.8" y="1303.1" width="59.6" height="474.9" fill="#acdcf4" stroke="#7f868c" stroke-width="3"/>
<rect x="792.4" y="1277.4" width="59.6" height="500.6" fill="#ff00ff" stroke="#8a6a8a" stroke-width="3"/>
<rect x="898.5" y="1533.7" width="59.6" height="244.3" fill="#c0c0c0" stroke="#858585" stroke-width="3"/>
<rect x="961.1" y="1318.2" width="59.6" height="459.8" fill="#acdcf4" stroke="#7f868c" stroke-width="3"/>
<rect x="1023.7" y="1267.1" width="59.6" height="510.9" fill="#ff00ff" stroke="#8a6a8a" stroke-width="3"/>
<rect x="1129.8" y="1592.0" width="59.6" height="186.0" fill="#c0c0c0" stroke="#858585" stroke-width="3"/>
<rect x="1192.4" y="1395.5" width="59.6" height="382.5" fill="#acdcf4" stroke="#7f868c" stroke-width="3"/>
<rect x="1255.0" y="1307.8" width="59.6" height="470.2" fill="#ff00ff" stroke="#8a6a8a" stroke-width="3"/>
<text transform="translate(235.6,1503) scale(0.955,1)" text-anchor="middle" font-size="35">16.3</text>
<text transform="translate(292.3,1367.5) scale(0.955,1)" text-anchor="middle" font-size="35">525</text>
<text transform="translate(356.9,1265.6) scale(0.955,1)" text-anchor="middle" font-size="35">78.8</text>
<text transform="translate(465.5,1320.5) scale(0.955,1)" text-anchor="middle" font-size="35">27.0</text>
<text transform="translate(527.2,1274.9) scale(0.955,1)" text-anchor="middle" font-size="35">644</text>
<text transform="translate(592.2,1258.8) scale(0.955,1)" text-anchor="middle" font-size="35">79.6</text>
<text transform="translate(702.1,1257) scale(0.955,1)" text-anchor="middle" font-size="35">30.7</text>
<text transform="translate(763.6,1291.4) scale(0.955,1)" text-anchor="middle" font-size="35">625</text>
<text transform="translate(823.8,1262.9) scale(0.955,1)" text-anchor="middle" font-size="35">79.1</text>
<text transform="translate(929.9,1519.5) scale(0.955,1)" text-anchor="middle" font-size="35">15.3</text>
<text transform="translate(989.7,1305.8) scale(0.955,1)" text-anchor="middle" font-size="35">606</text>
<text transform="translate(1054.2,1257) scale(0.955,1)" text-anchor="middle" font-size="35">80.4</text>
<text transform="translate(1156.6,1581.7) scale(0.955,1)" text-anchor="middle" font-size="35">11.9</text>
<text transform="translate(1223.2,1389.1) scale(0.955,1)" text-anchor="middle" font-size="35">508</text>
<text transform="translate(1283.7,1292.5) scale(0.955,1)" text-anchor="middle" font-size="35">74.3</text>
<line x1="181" y1="1778" x2="1339.5" y2="1778" stroke="#000" stroke-width="5"/>
<line x1="297.1" y1="1778" x2="297.1" y2="1797" stroke="#000" stroke-width="4"/>
<text x="296.1" y="1838" text-anchor="middle" font-size="44">0</text>
<line x1="528.4" y1="1778" x2="528.4" y2="1797" stroke="#000" stroke-width="4"/>
<text x="527.4" y="1838" text-anchor="middle" font-size="44">2</text>
<line x1="759.6" y1="1778" x2="759.6" y2="1797" stroke="#000" stroke-width="4"/>
<text x="758.6" y="1838" text-anchor="middle" font-size="44">4</text>
<line x1="990.9" y1="1778" x2="990.9" y2="1797" stroke="#000" stroke-width="4"/>
<text x="989.9" y="1838" text-anchor="middle" font-size="44">6</text>
<line x1="1222.2" y1="1778" x2="1222.2" y2="1797" stroke="#000" stroke-width="4"/>
<text x="1221.2" y="1838" text-anchor="middle" font-size="44">8</text>
<line x1="412.75" y1="1778" x2="412.75" y2="1787" stroke="#000" stroke-width="4"/>
<line x1="644.0" y1="1778" x2="644.0" y2="1787" stroke="#000" stroke-width="4"/>
<line x1="875.25" y1="1778" x2="875.25" y2="1787" stroke="#000" stroke-width="4"/>
<line x1="1106.55" y1="1778" x2="1106.55" y2="1787" stroke="#000" stroke-width="4"/>
<text x="732" y="1886" text-anchor="middle" font-size="53" font-weight="bold" textLength="688" lengthAdjust="spacingAndGlyphs">ionic nanosilica material wt%</text>
<text x="26" y="1092" font-size="58" textLength="74" lengthAdjust="spacingAndGlyphs">(b)</text>
<rect x="866.5" y="1057" width="443.5" height="147" fill="#fdfdfd" stroke="#b4b4b4" stroke-width="2"/>
<rect x="872.9" y="1064.6" width="88.10000000000002" height="34.700000000000045" fill="#c0c0c0" stroke="#858585" stroke-width="3"/>
<rect x="872.9" y="1112.8" width="88.10000000000002" height="37.0" fill="#acdcf4" stroke="#858585" stroke-width="3"/>
<rect x="872.9" y="1163.6" width="88.10000000000002" height="34.200000000000045" fill="#ff00ff" stroke="#858585" stroke-width="3"/>
<text x="969.5" y="1093.8" font-size="34" font-weight="bold" textLength="330" lengthAdjust="spacingAndGlyphs">Tensile strength/MPa</text>
<text x="969.5" y="1143.7" font-size="34" font-weight="bold" textLength="204" lengthAdjust="spacingAndGlyphs">Elongation/%</text>
<text x="969.5" y="1193.7" font-size="34" font-weight="bold" textLength="276" lengthAdjust="spacingAndGlyphs">Hardness/Shore A</text>
</svg>
</body></html>
